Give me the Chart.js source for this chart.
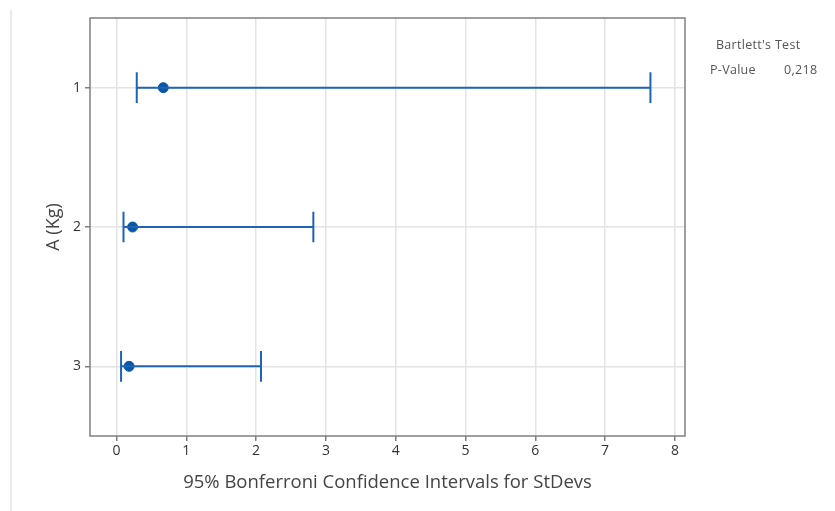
<!DOCTYPE html>
<html>
<head>
<meta charset="utf-8">
<script src="https://cdn.jsdelivr.net/npm/chart.js@4"></script>
<style>
html,body{margin:0;padding:0;background:#fff;}
#wrap{position:relative;width:835px;height:511px;}
#sideline{position:absolute;left:10px;top:10px;width:2px;height:501px;background:#ebebeb;}
#legend{position:absolute;left:0;top:0;font-family:"Open Sans",sans-serif;font-size:12.5px;color:#555;letter-spacing:0.3px;}
#legend div{position:absolute;white-space:nowrap;line-height:14px;}
</style>
</head>
<body>
<div id="wrap">
<div id="sideline"></div>
<canvas id="c" width="835" height="511"></canvas>
<div id="legend">
<div style="left:716px;top:38px;">Bartlett's Test</div>
<div style="left:710px;top:63px;">P-Value</div>
<div style="left:784px;top:63px;">0,218</div>
</div>
</div>
<script>
const categories = [1, 2, 3];
const lowerCI = [0.29, 0.10, 0.065];
const stdevs = [0.67, 0.23, 0.18];
const upperCI = [7.65, 2.82, 2.07];
const xTicks = [0, 1, 2, 3, 4, 5, 6, 7, 8];
const yTicks = [1, 2, 3];
const capHalf = 0.11;

const blue = '#1f63b5';
const dotBlue = '#0a56a8';

const hLines = [], caps = [];
categories.forEach((c, i) => {
  hLines.push({x: lowerCI[i], y: c}, {x: upperCI[i], y: c}, {x: null, y: null});
  caps.push({x: lowerCI[i], y: c - capHalf}, {x: lowerCI[i], y: c + capHalf}, {x: null, y: null});
  caps.push({x: upperCI[i], y: c - capHalf}, {x: upperCI[i], y: c + capHalf}, {x: null, y: null});
});
const points = categories.map((c, i) => ({x: stdevs[i], y: c}));

const framePlugin = {
  id: 'frame',
  beforeDatasetsDraw(chart) {
    const a = chart.chartArea, ctx = chart.ctx;
    ctx.save();
    ctx.strokeStyle = '#808080';
    ctx.lineWidth = 1.5;
    ctx.strokeRect(a.left, a.top, a.right - a.left, a.bottom - a.top);
    ctx.restore();
  }
};

new Chart(document.getElementById('c'), {
  type: 'scatter',
  data: {
    datasets: [
      {data: hLines, showLine: true, spanGaps: false, borderColor: blue, borderWidth: 2, pointRadius: 0},
      {data: caps, showLine: true, spanGaps: false, borderColor: blue, borderWidth: 2, pointRadius: 0},
      {data: points, showLine: false, backgroundColor: dotBlue, borderColor: dotBlue, pointRadius: 5}
    ]
  },
  options: {
    responsive: false,
    animation: false,
    events: [],
    layout: {padding: {top: 18, right: 150, left: 0, bottom: 0}},
    plugins: {legend: {display: false}, tooltip: {enabled: false}},
    scales: {
      x: {
        type: 'linear', min: -0.38, max: 8.145,
        afterBuildTicks: s => { s.ticks = xTicks.map(v => ({value: v})); },
        afterFit: s => { s.height = 75; },
        grid: {color: '#e4e4e4', lineWidth: 1.5, tickColor: '#808080', tickLength: 5, drawTicks: true},
        border: {display: false},
        ticks: {color: '#333', font: {family: 'Open Sans', size: 14}, padding: 2, maxRotation: 0},
        title: {display: true, text: '95% Bonferroni Confidence Intervals for StDevs', color: '#444', font: {family: 'Open Sans', size: 18.5}, padding: {top: 0, bottom: 17}}
      },
      y: {
        type: 'linear', min: 0.5, max: 3.5, reverse: true,
        afterBuildTicks: s => { s.ticks = yTicks.map(v => ({value: v})); },
        afterFit: s => { s.width = 90; },
        grid: {color: '#e4e4e4', lineWidth: 1.5, tickColor: '#808080', tickLength: 5, drawTicks: true},
        border: {display: false},
        ticks: {color: '#333', font: {family: 'Open Sans', size: 14}, padding: 4},
        title: {display: true, text: 'A (Kg)', color: '#444', font: {family: 'Open Sans', size: 18}, padding: {top: 42.7, bottom: 0}}
      }
    }
  },
  plugins: [framePlugin]
});
</script>
</body>
</html>
